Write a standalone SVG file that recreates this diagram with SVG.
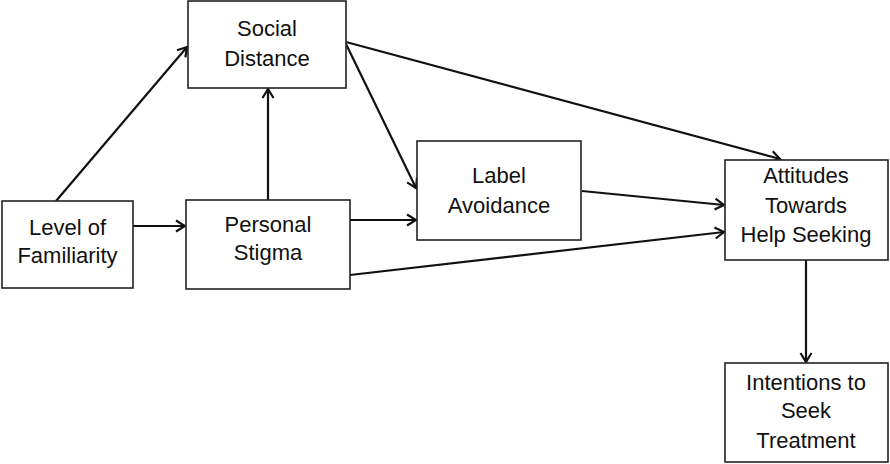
<svg xmlns="http://www.w3.org/2000/svg" width="890" height="464" viewBox="0 0 890 464">
<style>
.box{fill:#fff;stroke:#222;stroke-width:1.6}
.t{font-family:"Liberation Sans",Arial,sans-serif;font-size:22px;fill:#111;text-anchor:middle}
.c{stroke:#111;stroke-width:2.2;fill:none;marker-end:url(#ah)}
</style>
<defs>
<marker id="ah" markerUnits="userSpaceOnUse" markerWidth="14" markerHeight="14" viewBox="0 0 14 14" refX="12" refY="7" orient="auto">
<path d="M3,1.5 L12,7 L3,12.5" fill="none" stroke="#111" stroke-width="2.2"/>
</marker>
</defs>
<g id="connectors">
<line class="c" x1="133" y1="226" x2="185" y2="226"/>
<line class="c" x1="56" y1="201" x2="187" y2="47"/>
<line class="c" x1="268" y1="200" x2="268" y2="89"/>
<line class="c" x1="350" y1="220" x2="416" y2="220"/>
<line class="c" x1="350" y1="275" x2="724" y2="232"/>
<line class="c" x1="346" y1="44" x2="416" y2="188"/>
<line class="c" x1="346" y1="42" x2="780" y2="159"/>
<line class="c" x1="582" y1="191" x2="724" y2="205"/>
<line class="c" x1="806" y1="260" x2="806" y2="362"/>
</g>
<g id="familiarity">
<rect class="box" x="2" y="201" width="131" height="87"/>
<text class="t" x="67.5" y="235">Level of</text>
<text class="t" x="67.5" y="263">Familiarity</text>
</g>
<g id="stigma">
<rect class="box" x="186" y="200" width="164" height="89"/>
<text class="t" x="268" y="232">Personal</text>
<text class="t" x="268" y="260">Stigma</text>
</g>
<g id="distance">
<rect class="box" x="188" y="1" width="158" height="87"/>
<text class="t" x="267" y="36">Social</text>
<text class="t" x="267" y="66">Distance</text>
</g>
<g id="label">
<rect class="box" x="417" y="141" width="164" height="99"/>
<text class="t" x="499" y="183">Label</text>
<text class="t" x="499" y="213">Avoidance</text>
</g>
<g id="attitudes">
<rect class="box" x="725" y="160" width="163" height="100"/>
<text class="t" x="806" y="183">Attitudes</text>
<text class="t" x="806" y="213">Towards</text>
<text class="t" x="806" y="242">Help Seeking</text>
</g>
<g id="intentions">
<rect class="box" x="725" y="363" width="163" height="99"/>
<text class="t" x="806" y="390">Intentions to</text>
<text class="t" x="806" y="418">Seek</text>
<text class="t" x="806" y="448">Treatment</text>
</g>
</svg>
